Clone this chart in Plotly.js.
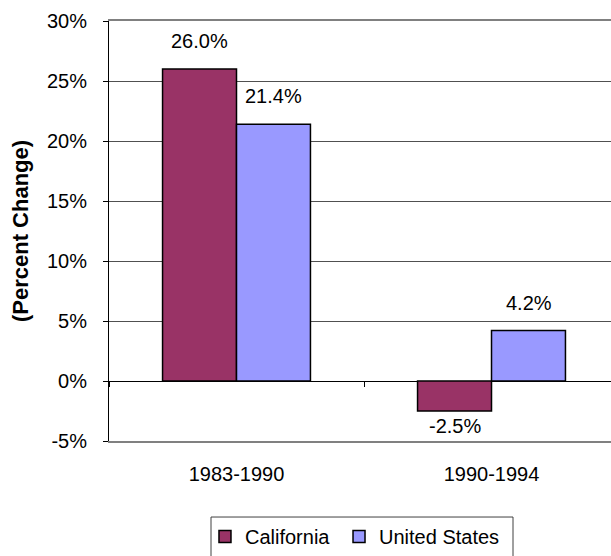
<!DOCTYPE html>
<html>
<head>
<meta charset="utf-8">
<script src="https://cdn.plot.ly/plotly-3.0.1.min.js"></script>
<style>html,body{margin:0;padding:0;background:#fff;overflow:hidden}#chart{width:611px;height:556px}</style>
</head>
<body>
<div id="chart"></div>
<script>
var categories = ['1983-1990', '1990-1994'];
var seriesNames = ['California', 'United States'];
var california = [26.0, -2.5];
var unitedStates = [21.4, 4.2];
var yTickVals = [-5, 0, 5, 10, 15, 20, 25, 30];
var yTickText = ['-5%', '0%', '5%', '10%', '15%', '20%', '25%', '30%'];

var FONT = 'Liberation Sans, Arial, sans-serif';
var colors = ['#993366', '#9999FF'];
var legendRefs = ['legend', 'legend2'];
var allSeries = [california, unitedStates];

var traces = allSeries.map(function (vals, i) {
  return {
    type: 'bar',
    name: seriesNames[i],
    legend: legendRefs[i],
    x: categories,
    y: vals,
    marker: {color: colors[i], line: {color: '#000000', width: 1.5}},
    hoverinfo: 'none'
  };
});

// helper axis to draw category boundary ticks on the zero line
traces.push({
  type: 'scatter', x: categories, y: [0, 0], xaxis: 'x2', yaxis: 'y',
  mode: 'none', showlegend: false, hoverinfo: 'none'
});

var annotations = [];
allSeries.forEach(function (vals, i) {
  vals.forEach(function (v, j) {
    annotations.push({
      x: categories[j], y: v, xref: 'x', yref: 'y',
      text: v.toFixed(1) + '%', showarrow: false,
      xshift: i === 0 ? -37 : 37,
      yshift: v >= 0 ? 28 : -15,
      yanchor: 'middle',
      font: {family: FONT, size: 20, color: '#000'}
    });
  });
});

var legendFont = {family: FONT, size: 20, color: '#000'};

var layout = {
  width: 611, height: 556,
  margin: {l: 109, r: 0, t: 21, b: 114},
  paper_bgcolor: '#ffffff', plot_bgcolor: '#ffffff',
  font: {family: FONT, size: 20, color: '#000'},
  barmode: 'group', bargap: 0.42, bargroupgap: 0,
  xaxis: {
    type: 'category', range: [-0.5, 1.4686],
    showgrid: false, zeroline: false,
    showline: true, linecolor: '#808080', linewidth: 2, mirror: true,
    ticks: '', ticklabelstandoff: 14,
    tickfont: {family: FONT, size: 20, color: '#000'}
  },
  xaxis2: {
    type: 'category', range: [-0.5, 1.4686], overlaying: 'x',
    anchor: 'free', position: 1 / 7,
    showgrid: false, zeroline: false, showline: false,
    tickson: 'boundaries', ticks: 'outside', ticklen: 5, tickcolor: '#000', tickwidth: 1,
    showticklabels: false
  },
  yaxis: {
    range: [-5, 30], tickvals: yTickVals, ticktext: yTickText,
    showgrid: true, gridcolor: '#505050', gridwidth: 1,
    zeroline: true, zerolinecolor: '#000', zerolinewidth: 1,
    showline: true, linecolor: '#000', linewidth: 1,
    ticks: 'outside', ticklen: 5, tickcolor: '#000',
    ticklabelstandoff: 12,
    tickfont: {family: FONT, size: 20, color: '#000'},
    title: {text: '<b>(Percent Change)</b>', font: {family: FONT, size: 22, color: '#000'}, standoff: 12}
  },
  showlegend: true,
  legend: {
    orientation: 'h', x: 0.1912, xanchor: 'left', y: -0.181, yanchor: 'top',
    borderwidth: 0, bgcolor: 'rgba(0,0,0,0)', font: legendFont
  },
  legend2: {
    orientation: 'h', x: 0.4582, xanchor: 'left', y: -0.181, yanchor: 'top',
    borderwidth: 0, bgcolor: 'rgba(0,0,0,0)', font: legendFont
  },
  shapes: [{
    type: 'rect', xref: 'paper', yref: 'paper',
    x0: 0.2032, x1: 0.8048, y0: -0.181, y1: -0.32,
    line: {color: '#404040', width: 1}, fillcolor: 'rgba(0,0,0,0)', layer: 'above'
  }],
  annotations: annotations
};

Plotly.newPlot('chart', traces, layout, {staticPlot: true, displayModeBar: false});
</script>
</body>
</html>
